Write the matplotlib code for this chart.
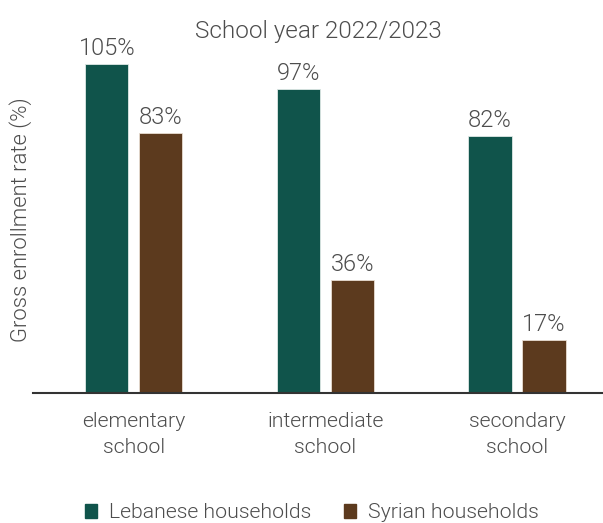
import matplotlib
matplotlib.use("Agg")
import matplotlib.pyplot as plt
import numpy as np
from matplotlib.patches import Patch

categories = ["elementary\nschool", "intermediate\nschool", "secondary\nschool"]
lebanese = [105, 97, 82]
syrian = [83, 36, 17]
series_names = ["Lebanese households", "Syrian households"]

teal = "#10544b"
brown = "#5c3a1e"
txt = "#4d4d4d"

plt.rcParams['font.family'] = ['Roboto', 'DejaVu Sans']
W = 300

fig = plt.figure(figsize=(6.03, 5.23), dpi=100)
ax = fig.add_axes([33/603, 130/523, 570/603, 343/523])

x = np.arange(len(categories))
w = 0.225
off = 0.141
b1 = ax.bar(x - off, lebanese, w, color=teal, edgecolor="#dfe9e6", linewidth=0.6)
b2 = ax.bar(x + off, syrian, w, color=brown, edgecolor="#e8ddd2", linewidth=0.6)

for bars, vals in ((b1, lebanese), (b2, syrian)):
    for r, v in zip(bars, vals):
        ax.text(r.get_x() + r.get_width()/2, v + 2.9, f"{v}%", ha="center", va="baseline",
                fontsize=17, color=txt, fontweight=W)

ax.set_xlim(-0.527, 2.449)
ax.set_ylim(0, 109.5)
ax.set_xticks(x)
ax.set_xticklabels(categories, fontsize=15.3, color=txt, linespacing=1.42, fontweight=W)
ax.tick_params(axis='x', length=0, pad=14)
ax.set_yticks([])
for s in ["top", "right", "left"]:
    ax.spines[s].set_visible(False)
ax.spines["bottom"].set_color("#333333")
ax.spines["bottom"].set_linewidth(1.5)

fig.text(21/603, 1 - 220/523, "Gross enrollment rate (%)", rotation=90, ha="center", va="center",
         fontsize=15.8, color=txt, fontweight=W)
fig.text(318/603, 1 - 38/523, "School year 2022/2023", ha="center", va="baseline",
         fontsize=17.5, color=txt, fontweight=W)

handles = [Patch(color=teal), Patch(color=brown)]
fig.legend(handles, series_names, loc="center", bbox_to_anchor=(312/603, 1 - 513/523),
           ncol=2, frameon=False, handlelength=0.57, handleheight=0.57,
           handletextpad=0.56, columnspacing=1.55, labelcolor=txt,
           prop={'family': ['Roboto', 'DejaVu Sans'], 'weight': W, 'size': 15.3})

fig.savefig("out.png", dpi=100)
